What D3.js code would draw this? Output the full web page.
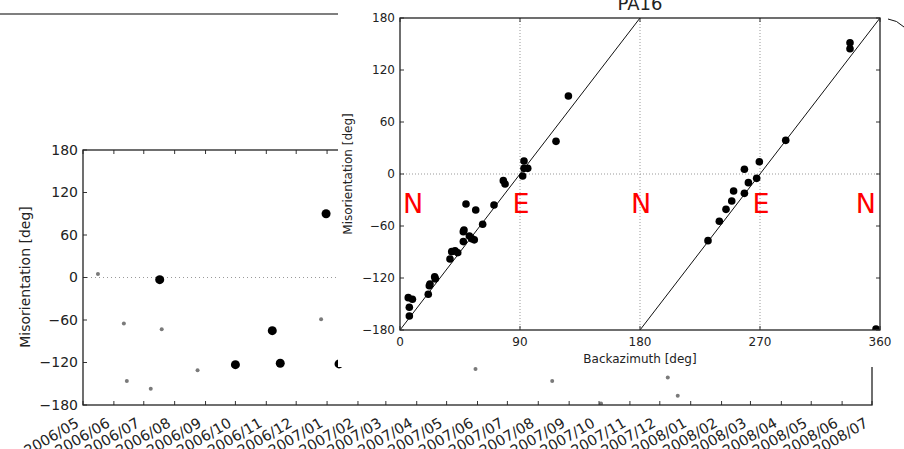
<!doctype html>
<html lang="en">
<head>
<meta charset="utf-8">
<script src="https://cdnjs.cloudflare.com/ajax/libs/d3/7.8.5/d3.min.js"></script>
<style>
  html, body {margin:0px; padding:0px; background:#fff;}
  svg {display:block; font-family:"DejaVu Sans", sans-serif;}
</style>
</head>
<body>
<svg id="fig" width="904" height="449"></svg>
<script>
// --- back figure: misorientation through time ---
var bigDates = ["2006-07-17","2006-10-01","2006-11-07","2006-11-15","2006-12-31","2007-01-13"];
var bigMis = [-3, -123, -75, -121, 90, -122];
var smallDates = ["2006-05-16","2006-06-11","2006-06-14","2006-07-08","2006-07-19","2006-08-24",
                  "2006-12-26","2007-05-30","2007-08-15","2007-10-03","2007-12-09","2007-12-19"];
var smallMis = [5, -65, -146, -157, -73, -131, -59, -129, -146, -178, -141, -167];
var misTicks = [180, 120, 60, 0, -60, -120, -180];

// --- front figure: misorientation vs backazimuth (PA16) ---
var baz = [6.2, 9.3, 7, 7, 21.2, 22, 22.5, 26, 26.5, 37.5, 38.8, 41.3, 43.3, 47.5, 48, 49.5, 47.5,
           52, 53.8, 55.7, 56.8, 62, 70.5, 77.5, 78.8, 92, 93, 93, 95.8, 117, 126.3,
           231, 239.5, 244.5, 248.8, 250.2, 258.3, 261.3, 267.5, 258.3, 269.5, 289.3, 337.5, 337.5, 357];
var bazMis = [-142.7, -144.6, -153.8, -163.8, -138.8, -129, -127, -118.5, -121, -98, -89.6, -88.5, -90.8,
              -66.5, -64.6, -34.6, -78, -71.5, -74.6, -76, -41.5, -58, -35.8, -7.7, -11.5, -2.3, 15, 6.5,
              6.5, 37.7, 90, -76.9, -54.6, -40.8, -31.2, -19.6, -22.3, -10, -5, 5.4, 14.2, 38.8, 151.5,
              144.6, -179];
var bazTicks = [0, 90, 180, 270, 360];
var bazGrid = [90, 180, 270];
var compassBaz = [0, 90, 180, 270, 360];
var compassLabels = ["N", "E", "N", "E", "N"];
var expectedLines = [[0, 180], [180, 360]]; // baz ranges of the 2*baz-180 line

var svg = d3.select("#fig");
var parse = d3.timeParse("%Y-%m-%d");
var fmtMonth = d3.timeFormat("%Y/%m");

/* ---------- back figure ---------- */
var x = d3.scaleTime().domain([parse("2006-05-01"), parse("2008-07-01")]).range([83, 872]);
var y = d3.scaleLinear().domain([-180, 180]).range([405, 150]);
var months = d3.timeMonths(parse("2006-05-01"), parse("2008-07-02"));

// stray line of another panel
svg.append("line").attr("x1", 0).attr("x2", 338).attr("y1", 14).attr("y2", 14)
   .attr("stroke", "#000").attr("stroke-width", 1.2);

svg.append("clipPath").attr("id", "clipL").append("rect")
   .attr("x", 83).attr("y", 150).attr("width", 789).attr("height", 255);

var back = svg.append("g");
back.append("line").attr("x1", 83).attr("x2", 872).attr("y1", y(0)).attr("y2", y(0))
    .attr("stroke", "#999").attr("stroke-dasharray", "1,3");

var pts = back.append("g").attr("clip-path", "url(#clipL)");
pts.selectAll("circle.small").data(smallDates).enter().append("circle")
   .attr("class", "small")
   .attr("cx", function(d){return x(parse(d));})
   .attr("cy", function(d, i){return y(smallMis[i]);})
   .attr("r", 2).attr("fill", "#7a7a7a");
pts.selectAll("circle.big").data(bigDates).enter().append("circle")
   .attr("class", "big")
   .attr("cx", function(d){return x(parse(d));})
   .attr("cy", function(d, i){return y(bigMis[i]);})
   .attr("r", 4.5).attr("fill", "#000");

// inward ticks
back.selectAll("line.xt").data(months).enter().append("line")
    .attr("x1", function(d){return x(d);}).attr("x2", function(d){return x(d);})
    .attr("y1", 405).attr("y2", 401).attr("stroke", "#333");
back.selectAll("line.xtt").data(months).enter().append("line")
    .attr("x1", function(d){return x(d);}).attr("x2", function(d){return x(d);})
    .attr("y1", 150).attr("y2", 154).attr("stroke", "#333");
back.selectAll("line.yt").data(misTicks).enter().append("line")
    .attr("x1", 83).attr("x2", 87).attr("y1", function(d){return y(d);}).attr("y2", function(d){return y(d);})
    .attr("stroke", "#333");
back.append("rect").attr("x", 83).attr("y", 150).attr("width", 789).attr("height", 255)
    .attr("fill", "none").attr("stroke", "#222").attr("stroke-width", 1.3);

back.selectAll("text.yl").data(misTicks).enter().append("text")
    .attr("x", 78).attr("y", function(d){return y(d);}).attr("dy", "0.35em")
    .attr("text-anchor", "end").attr("font-size", 14).attr("fill", "#222")
    .text(d3.format("d"));
back.selectAll("text.xl").data(months).enter().append("text")
    .attr("transform", function(d){return "translate(" + (x(d) - 3) + ",426) rotate(-30)";})
    .attr("text-anchor", "end").attr("font-size", 14.5).attr("fill", "#222")
    .text(fmtMonth);
back.append("text").attr("transform", "translate(30,277) rotate(-90)")
    .attr("text-anchor", "middle").attr("font-size", 14).attr("fill", "#222")
    .text("Misorientation [deg]");

/* ---------- front figure ---------- */
var front = svg.append("g");
front.append("rect").attr("x", 338).attr("y", 0).attr("width", 566).attr("height", 367).attr("fill", "#fff");

var bx = d3.scaleLinear().domain([0, 360]).range([400, 880]);
var by = d3.scaleLinear().domain([-180, 180]).range([330, 18]);

svg.append("clipPath").attr("id", "clipR").append("rect")
   .attr("x", 400).attr("y", 18).attr("width", 480).attr("height", 312);

// title, its top is off the picture
front.append("text").attr("x", 640).attr("y", 10).attr("text-anchor", "middle")
     .attr("font-size", 18).attr("fill", "#222").text("PA16");
front.append("path").attr("d", "M888,19 Q897,20 904,27").attr("fill", "none").attr("stroke", "#111");

var plot = front.append("g").attr("clip-path", "url(#clipR)");
plot.selectAll("line.vg").data(bazGrid).enter().append("line")
    .attr("x1", function(d){return bx(d);}).attr("x2", function(d){return bx(d);})
    .attr("y1", 18).attr("y2", 330).attr("stroke", "#999").attr("stroke-dasharray", "1,2");
plot.append("line").attr("x1", 400).attr("x2", 880).attr("y1", by(0)).attr("y2", by(0))
    .attr("stroke", "#999").attr("stroke-dasharray", "1,2");
plot.selectAll("line.fit").data(expectedLines).enter().append("line")
    .attr("x1", function(d){return bx(d[0]);}).attr("y1", by(-180))
    .attr("x2", function(d){return bx(d[1]);}).attr("y2", by(180))
    .attr("stroke", "#111").attr("stroke-width", 1);
plot.selectAll("circle").data(baz).enter().append("circle")
    .attr("cx", function(d){return bx(d);})
    .attr("cy", function(d, i){return by(bazMis[i]);})
    .attr("r", 3.8).attr("fill", "#000");

front.selectAll("text.cmp").data(compassBaz).enter().append("text")
     .attr("x", function(d){return bx(d);}).attr("y", by(-45))
     .attr("text-anchor", function(d, i){return i == 0 ? "start" : (i == compassBaz.length - 1 ? "end" : "middle");})
     .attr("dx", function(d, i){return i == 0 ? 3 : (i == compassBaz.length - 1 ? -4 : 1);})
     .attr("font-size", 27).attr("fill", "#f00")
     .text(function(d, i){return compassLabels[i];});

front.selectAll("line.bt").data(bazTicks).enter().append("line")
     .attr("x1", function(d){return bx(d);}).attr("x2", function(d){return bx(d);})
     .attr("y1", 330).attr("y2", 326).attr("stroke", "#333");
front.selectAll("line.btt").data(bazTicks).enter().append("line")
     .attr("x1", function(d){return bx(d);}).attr("x2", function(d){return bx(d);})
     .attr("y1", 18).attr("y2", 22).attr("stroke", "#333");
front.selectAll("line.ylt").data(misTicks).enter().append("line")
     .attr("x1", 400).attr("x2", 404).attr("y1", function(d){return by(d);}).attr("y2", function(d){return by(d);})
     .attr("stroke", "#333");
front.selectAll("line.yrt").data(misTicks).enter().append("line")
     .attr("x1", 880).attr("x2", 876).attr("y1", function(d){return by(d);}).attr("y2", function(d){return by(d);})
     .attr("stroke", "#333");
front.append("rect").attr("x", 400).attr("y", 18).attr("width", 480).attr("height", 312)
     .attr("fill", "none").attr("stroke", "#222").attr("stroke-width", 1.3);

front.selectAll("text.byl").data(misTicks).enter().append("text")
     .attr("x", 395).attr("y", function(d){return by(d);}).attr("dy", "0.35em")
     .attr("text-anchor", "end").attr("font-size", 12).attr("fill", "#222")
     .text(d3.format("d"));
front.selectAll("text.bxl").data(bazTicks).enter().append("text")
     .attr("x", function(d){return bx(d);}).attr("y", 346)
     .attr("text-anchor", "middle").attr("font-size", 12).attr("fill", "#222")
     .text(d3.format("d"));
front.append("text").attr("x", 640).attr("y", 363).attr("text-anchor", "middle")
     .attr("font-size", 12).attr("fill", "#222").text("Backazimuth [deg]");
front.append("text").attr("transform", "translate(352,174) rotate(-90)")
     .attr("text-anchor", "middle").attr("font-size", 12).attr("fill", "#222")
     .text("Misorientation [deg]");
</script>
</body>
</html>
